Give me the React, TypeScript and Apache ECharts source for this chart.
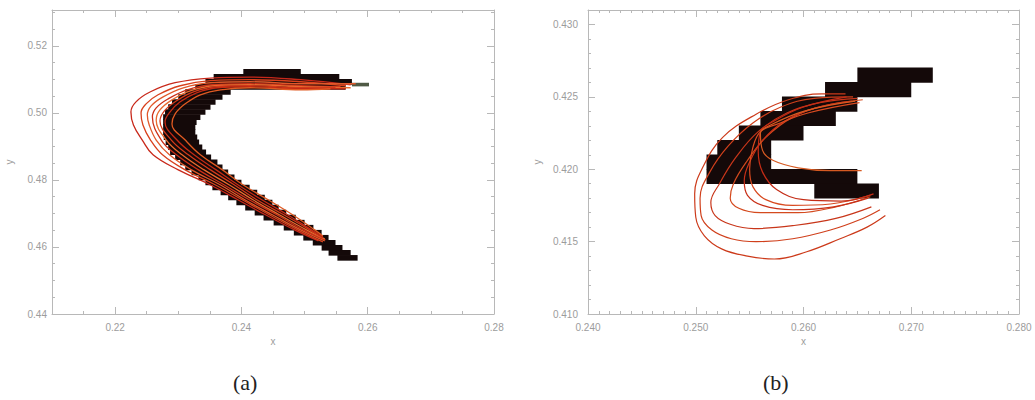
import React, { useEffect, useRef } from "react";
import * as echarts from "echarts";

// ---------- tick values ----------
const leftXTicks = [0.22, 0.24, 0.26, 0.28];
const leftYTicks = [0.44, 0.46, 0.48, 0.5, 0.52];
const rightXTicks = [0.24, 0.25, 0.26, 0.27, 0.28];
const rightYTicks = [0.41, 0.415, 0.42, 0.425, 0.43];

// ---------- black pixel blocks [x0, x1, y0, y1] ----------
const leftBlocks = [
  [0.2552, 0.2584, 0.456, 0.4575],
  [0.2538, 0.2573, 0.4575, 0.459],
  [0.2527, 0.256, 0.459, 0.4605],
  [0.2513, 0.2549, 0.4605, 0.462],
  [0.2498, 0.2538, 0.462, 0.4635],
  [0.2483, 0.2527, 0.4635, 0.465],
  [0.2467, 0.2514, 0.465, 0.4665],
  [0.2451, 0.25, 0.4665, 0.468],
  [0.2435, 0.2486, 0.468, 0.4695],
  [0.2421, 0.2471, 0.4695, 0.471],
  [0.2406, 0.2459, 0.471, 0.4725],
  [0.2392, 0.2449, 0.4725, 0.474],
  [0.2379, 0.2437, 0.474, 0.4755],
  [0.2367, 0.2425, 0.4755, 0.477],
  [0.2354, 0.2413, 0.477, 0.4785],
  [0.2343, 0.24, 0.4785, 0.48],
  [0.2332, 0.2389, 0.48, 0.4815],
  [0.2321, 0.2379, 0.4815, 0.483],
  [0.2311, 0.237, 0.483, 0.4845],
  [0.2303, 0.2362, 0.4845, 0.486],
  [0.2295, 0.2352, 0.486, 0.4875],
  [0.2287, 0.2344, 0.4875, 0.489],
  [0.2284, 0.2338, 0.489, 0.4905],
  [0.228, 0.2333, 0.4905, 0.492],
  [0.2277, 0.233, 0.492, 0.4935],
  [0.2276, 0.2327, 0.4935, 0.495],
  [0.2276, 0.2327, 0.495, 0.4965],
  [0.2276, 0.2329, 0.4965, 0.498],
  [0.2276, 0.2335, 0.498, 0.4995],
  [0.2279, 0.2343, 0.4995, 0.501],
  [0.2284, 0.2351, 0.501, 0.5025],
  [0.229, 0.2359, 0.5025, 0.504],
  [0.23, 0.237, 0.504, 0.5055],
  [0.2311, 0.2383, 0.5055, 0.507],
  [0.2327, 0.2565, 0.507, 0.5085],
  [0.2343, 0.2575, 0.5085, 0.51],
  [0.2356, 0.2555, 0.51, 0.5115],
  [0.2403, 0.2494, 0.5115, 0.513],
];
const leftTip = [[0.2575, 0.2602, 0.508, 0.5089]];

const rightBlocks = [
  [0.265, 0.272, 0.426, 0.427],
  [0.262, 0.27, 0.425, 0.426],
  [0.258, 0.265, 0.424, 0.425],
  [0.256, 0.263, 0.423, 0.424],
  [0.254, 0.26, 0.422, 0.423],
  [0.252, 0.257, 0.421, 0.422],
  [0.251, 0.257, 0.42, 0.421],
  [0.251, 0.265, 0.419, 0.42],
  [0.261, 0.267, 0.418, 0.419],
];

// ---------- red fitted curves, panel (a) ----------
const leftCurve1 = [[0.2573,0.5084],[0.2494,0.5099],[0.2414,0.5107],[0.2351,0.5104],[0.2295,0.509],[0.2256,0.5063],[0.2233,0.5033],[0.2225,0.5003],[0.2229,0.4964],[0.2243,0.4919],[0.226,0.4875],[0.23,0.483],[0.2351,0.4785],[0.2395,0.474],[0.2438,0.4696],[0.2484,0.4651],[0.2522,0.4618]];
const leftCurve2 = [[0.2565,0.5081],[0.2494,0.5093],[0.2414,0.5099],[0.2351,0.5096],[0.2303,0.5081],[0.2268,0.5054],[0.2249,0.5027],[0.2241,0.5],[0.2244,0.4964],[0.2256,0.4919],[0.2275,0.4875],[0.2311,0.483],[0.2359,0.4785],[0.2402,0.474],[0.2444,0.4696],[0.2489,0.4651],[0.2529,0.4615]];
const leftCurve3 = [[0.2581,0.5087],[0.2494,0.5087],[0.2414,0.5093],[0.2351,0.509],[0.2308,0.5075],[0.2276,0.5048],[0.2257,0.5021],[0.2251,0.4994],[0.2254,0.4964],[0.2265,0.4919],[0.2286,0.4875],[0.2321,0.483],[0.2367,0.4785],[0.2406,0.474],[0.2449,0.4696],[0.2494,0.4651],[0.2532,0.4618]];
const leftCurve4 = [[0.2557,0.5078],[0.2494,0.5081],[0.2414,0.5087],[0.2354,0.5084],[0.2314,0.5069],[0.2284,0.5042],[0.2265,0.5015],[0.2259,0.4988],[0.2273,0.4919],[0.2297,0.4875],[0.2332,0.483],[0.2373,0.4785],[0.2413,0.474],[0.2456,0.4696],[0.2498,0.4651],[0.2533,0.4621]];
const leftCurve5 = [[0.2573,0.5075],[0.2494,0.5078],[0.2414,0.5084],[0.2357,0.5081],[0.2319,0.5066],[0.229,0.5039],[0.2271,0.5009],[0.2265,0.4979],[0.2281,0.4919],[0.2306,0.4875],[0.2341,0.483],[0.2381,0.4785],[0.2419,0.474],[0.246,0.4696],[0.2503,0.4651],[0.2532,0.4624]];
const leftCurve6 = [[0.2549,0.5075],[0.2494,0.5075],[0.2414,0.5081],[0.236,0.5078],[0.2324,0.5063],[0.2297,0.5036],[0.2278,0.5006],[0.2271,0.4976],[0.2289,0.4919],[0.2316,0.4875],[0.2351,0.483],[0.2389,0.4785],[0.2425,0.474],[0.2467,0.4696],[0.2508,0.4651],[0.2529,0.4627]];
const leftCurve7 = [[0.2565,0.5072],[0.2494,0.5072],[0.2414,0.5078],[0.2363,0.5075],[0.2329,0.506],[0.2303,0.5033],[0.2287,0.5003],[0.2279,0.4973],[0.2298,0.4919],[0.2325,0.4875],[0.236,0.483],[0.2395,0.4785],[0.2433,0.474],[0.2473,0.4696],[0.2511,0.4651],[0.2529,0.463]];
const leftCurve8 = [[0.2541,0.5072],[0.2494,0.5069],[0.2414,0.5075],[0.2367,0.5069],[0.2335,0.5054],[0.2311,0.5027],[0.2295,0.4997],[0.229,0.4967],[0.2311,0.4919],[0.2335,0.4875],[0.237,0.483],[0.2403,0.4785],[0.2443,0.474],[0.2481,0.4696],[0.2516,0.4651],[0.2529,0.4633]];

// ---------- red fitted curves, panel (b) ----------
const rightCurve1 = [[0.2639,0.4252],[0.2617,0.4252],[0.2586,0.4248],[0.2556,0.4238],[0.2525,0.4222],[0.2507,0.4202],[0.2499,0.4183],[0.25,0.4167],[0.2508,0.4154],[0.2524,0.4145],[0.2548,0.414],[0.2573,0.4138],[0.2603,0.4143],[0.2634,0.4152],[0.2659,0.416],[0.2676,0.4168]];
const rightCurve2 = [[0.2646,0.425],[0.261,0.4249],[0.2579,0.4243],[0.2553,0.4232],[0.253,0.4216],[0.2513,0.4198],[0.2504,0.418],[0.2505,0.4168],[0.2515,0.4158],[0.2533,0.4152],[0.2556,0.415],[0.259,0.4152],[0.2625,0.4158],[0.2655,0.4166],[0.2671,0.4172]];
const rightCurve3 = [[0.265,0.4249],[0.2615,0.4246],[0.2585,0.4239],[0.2558,0.4226],[0.2537,0.4208],[0.2522,0.419],[0.2514,0.4177],[0.2518,0.4168],[0.2532,0.4162],[0.2554,0.4159],[0.259,0.4161],[0.263,0.4166],[0.2663,0.4174]];
const rightCurve4 = [[0.2655,0.4248],[0.262,0.4244],[0.259,0.4236],[0.2565,0.4222],[0.2547,0.4205],[0.2535,0.419],[0.2532,0.418],[0.254,0.4173],[0.256,0.417],[0.2595,0.417],[0.263,0.4174],[0.2662,0.4181]];
const rightCurve5 = [[0.2645,0.4247],[0.261,0.4242],[0.2582,0.4233],[0.2562,0.422],[0.255,0.4205],[0.2545,0.4192],[0.2548,0.4182],[0.2562,0.4175],[0.259,0.4172],[0.2628,0.4174],[0.266,0.418]];
const rightCurve6 = [[0.2652,0.4246],[0.2605,0.4239],[0.2575,0.4231],[0.256,0.4226],[0.2553,0.4215],[0.255,0.42],[0.2553,0.4188],[0.2565,0.4179],[0.259,0.4175],[0.2625,0.4176],[0.2662,0.4182]];
const rightCurve7 = [[0.264,0.425],[0.26,0.4243],[0.2572,0.4233],[0.256,0.4226],[0.2558,0.4212],[0.2562,0.4198],[0.2575,0.4186],[0.26,0.4179],[0.2635,0.4178],[0.2665,0.4183]];
const rightCurve8 = [[0.2648,0.4247],[0.26,0.424],[0.2568,0.423],[0.256,0.4225],[0.2562,0.4213],[0.2572,0.4206],[0.2595,0.4201],[0.2625,0.4199],[0.2654,0.4199]];

const leftCurves = [leftCurve1, leftCurve2, leftCurve3, leftCurve4, leftCurve5, leftCurve6, leftCurve7, leftCurve8];
const rightCurves = [rightCurve1, rightCurve2, rightCurve3, rightCurve4, rightCurve5, rightCurve6, rightCurve7, rightCurve8];

const leftColors = ["#c8281a", "#d8401c", "#e0582a", "#cc3018", "#e86a2e", "#d23a1a", "#c42a14", "#e05a22"];
const rightColors = ["#cc3a1a", "#d0401c", "#c8361a", "#d44a1e", "#c83018", "#d84a20", "#c42c16", "#d65a22"];

const AXIS_COLOR = "#b8b8b8";
const LABEL_COLOR = "#9c9c9c";
const FONT = "Liberation Sans";

function majorX(gridIndex: number, position: string, min: number, max: number, ticks: number[], dec: number, showLabel: boolean, nameGap: number) {
  return {
    type: "value", gridIndex, position, min, max,
    name: showLabel ? "x" : "", nameLocation: "middle", nameGap,
    nameTextStyle: { color: LABEL_COLOR, fontSize: 10, fontFamily: FONT },
    axisLine: { show: true, lineStyle: { color: AXIS_COLOR, width: 1 } },
    axisTick: { show: true, inside: true, length: 7, customValues: ticks, lineStyle: { color: AXIS_COLOR } },
    axisLabel: { show: showLabel, customValues: ticks, margin: 8, color: LABEL_COLOR, fontSize: 10, fontFamily: FONT, formatter: (v: number) => v.toFixed(dec) },
    splitLine: { show: false },
  };
}
function minorX(gridIndex: number, position: string, min: number, max: number, interval: number) {
  return {
    type: "value", gridIndex, position, min, max, interval,
    axisLine: { show: false },
    axisTick: { show: true, inside: true, length: 3, lineStyle: { color: AXIS_COLOR } },
    axisLabel: { show: false },
    splitLine: { show: false },
  };
}
function majorY(gridIndex: number, position: string, min: number, max: number, ticks: number[], dec: number, showLabel: boolean, nameGap: number, margin: number) {
  return {
    type: "value", gridIndex, position, min, max,
    name: showLabel ? "y" : "", nameLocation: "middle", nameGap, nameRotate: 90,
    nameTextStyle: { color: LABEL_COLOR, fontSize: 10, fontFamily: FONT },
    axisLine: { show: true, lineStyle: { color: AXIS_COLOR, width: 1 } },
    axisTick: { show: true, inside: true, length: 7, customValues: ticks, lineStyle: { color: AXIS_COLOR } },
    axisLabel: { show: showLabel, customValues: ticks, margin, color: LABEL_COLOR, fontSize: 10, fontFamily: FONT, formatter: (v: number) => v.toFixed(dec) },
    splitLine: { show: false },
  };
}
function minorY(gridIndex: number, position: string, min: number, max: number, interval: number) {
  return minorX(gridIndex, position, min, max, interval);
}

const blockRenderer = (color: string) => (params: any, api: any) => {
  const p0 = api.coord([api.value(0), api.value(3)]);
  const p1 = api.coord([api.value(1), api.value(2)]);
  return {
    type: "rect",
    shape: { x: p0[0], y: p0[1] - 0.3, width: p1[0] - p0[0], height: p1[1] - p0[1] + 0.6 },
    style: { fill: color },
  };
};

export default function App() {
  const ref = useRef<HTMLDivElement>(null);
  useEffect(() => {
    if (!ref.current) return;
    const chart = echarts.init(ref.current, null, { renderer: "svg" });
    const LX = [0.21, 0.28];
    const LY = [0.44, 0.5307];
    const RX = [0.24, 0.28];
    const RY = [0.41, 0.431];

    const series: any[] = [
      {
        type: "custom", xAxisIndex: 0, yAxisIndex: 0, renderItem: blockRenderer("#140909"),
        encode: { x: [0, 1], y: [2, 3] }, data: leftBlocks, z: 2,
      },
      {
        type: "custom", xAxisIndex: 0, yAxisIndex: 0, renderItem: blockRenderer("#4f5a45"),
        encode: { x: [0, 1], y: [2, 3] }, data: leftTip, z: 2,
      },
      {
        type: "custom", xAxisIndex: 4, yAxisIndex: 4, renderItem: blockRenderer("#140909"),
        encode: { x: [0, 1], y: [2, 3] }, data: rightBlocks, z: 2,
      },
    ];
    leftCurves.forEach((c, i) =>
      series.push({
        type: "line", xAxisIndex: 0, yAxisIndex: 0, data: c, smooth: 0.4, showSymbol: false, z: 3,
        lineStyle: { color: leftColors[i], width: 1.3 }, silent: true,
      })
    );
    rightCurves.forEach((c, i) =>
      series.push({
        type: "line", xAxisIndex: 4, yAxisIndex: 4, data: c, smooth: 0.4, showSymbol: false, z: 3,
        lineStyle: { color: rightColors[i], width: 1.2 }, silent: true,
      })
    );

    chart.setOption({
      animation: false,
      backgroundColor: "#ffffff",
      grid: [
        { left: 52, top: 10, width: 442, height: 304, containLabel: false, outerBoundsMode: "none" },
        { left: 588, top: 10, width: 431, height: 304, containLabel: false, outerBoundsMode: "none" },
      ],
      xAxis: [
        majorX(0, "bottom", LX[0], LX[1], leftXTicks, 2, true, 19),
        minorX(0, "bottom", LX[0], LX[1], 0.005),
        majorX(0, "top", LX[0], LX[1], leftXTicks, 2, false, 0),
        minorX(0, "top", LX[0], LX[1], 0.005),
        majorX(1, "bottom", RX[0], RX[1], rightXTicks, 3, true, 21),
        minorX(1, "bottom", RX[0], RX[1], 0.001),
        majorX(1, "top", RX[0], RX[1], rightXTicks, 3, false, 0),
        minorX(1, "top", RX[0], RX[1], 0.001),
      ],
      yAxis: [
        majorY(0, "left", LY[0], LY[1], leftYTicks, 2, true, 38, 5),
        minorY(0, "left", LY[0], LY[1], 0.005),
        majorY(0, "right", LY[0], LY[1], leftYTicks, 2, false, 0, 5),
        minorY(0, "right", LY[0], LY[1], 0.005),
        majorY(1, "left", RY[0], RY[1], rightYTicks, 3, true, 46, 10),
        minorY(1, "left", RY[0], RY[1], 0.001),
        majorY(1, "right", RY[0], RY[1], rightYTicks, 3, false, 0, 5),
        minorY(1, "right", RY[0], RY[1], 0.001),
      ],
      graphic: [
        { type: "text", left: 233, top: 371, style: { text: "(a)", fill: "#222", font: "22px 'Liberation Serif'" } },
        { type: "text", left: 763, top: 371, style: { text: "(b)", fill: "#222", font: "22px 'Liberation Serif'" } },
      ],
      series,
    });
    return () => chart.dispose();
  }, []);
  return <div ref={ref} style={{ position: "fixed", left: 0, top: 0, width: 1035, height: 400, background: "#fff" }} />;
}
